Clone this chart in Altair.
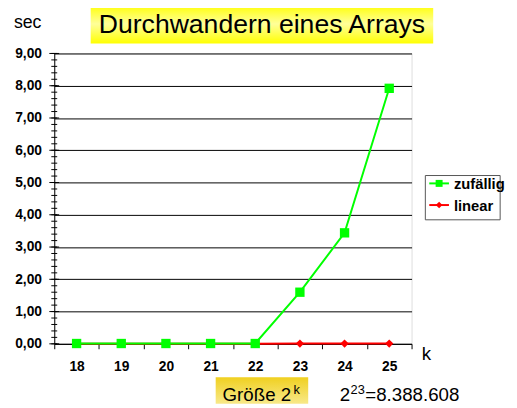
import altair as alt
import pandas as pd

k_values = [18, 19, 20, 21, 22, 23, 24, 25]
zufaellig = [0.01, 0.01, 0.01, 0.01, 0.01, 1.60, 3.44, 7.92]
linear = [0.0, 0.0, 0.0, 0.0, 0.0, 0.01, 0.01, 0.01]
series_names = ["zufällig", "linear"]
y_ticks = [0, 1, 2, 3, 4, 5, 6, 7, 8, 9]
minor_ticks = [i / 5 for i in range(46)]

W, H = 363, 295
FONT = "Liberation Sans"

df_z = pd.DataFrame({"k": [str(v) for v in k_values], "sec": zufaellig, "Reihe": series_names[0]})
df_l = pd.DataFrame({"k": [str(v) for v in k_values], "sec": linear, "Reihe": series_names[1]})

x_enc = alt.X("k:N", sort=[str(v) for v in k_values], title=None,
              scale=alt.Scale(paddingInner=0, paddingOuter=0),
              axis=alt.Axis(labelFont=FONT, labelFontWeight="bold", labelFontSize=14,
                            labelColor="black", labelAngle=0, domainColor="black",
                            tickColor="black", tickSize=5, bandPosition=0, tickBand="extent",
                            labelPadding=11, grid=False))
y_scale = alt.Scale(domain=[0, 9], nice=False)
y_axis = alt.Axis(values=y_ticks, labelExpr="replace(format(datum.value, '.2f'), '.', ',')",
                  labelFont=FONT, labelFontWeight="bold", labelFontSize=14,
                  labelColor="black", domainColor="black", tickSize=0,
                  labelOverlap=False, labelPadding=13, grid=True,
                  gridColor="black", gridOpacity=1, gridWidth=1)
y_enc = alt.Y("sec:Q", scale=y_scale, title=None, axis=y_axis)

base_red = alt.Chart(df_l)
red_line = base_red.mark_line(color="#ff0000", strokeWidth=2).encode(x=x_enc, y=y_enc)
red_pts = base_red.mark_point(shape="diamond", filled=True, color="#ff0000", size=70, opacity=1).encode(x=x_enc, y=y_enc)

base_green = alt.Chart(df_z)
green_line = base_green.mark_line(color="#00ff00", strokeWidth=2).encode(x=x_enc, y=y_enc)
green_pts = base_green.mark_point(shape="square", filled=True, color="#00ff00", size=90, opacity=1).encode(x=x_enc, y=y_enc)

# axis tick marks crossing the y axis
minor_df = pd.DataFrame({"sec": minor_ticks})
minor = alt.Chart(minor_df).mark_rule(color="black", strokeWidth=1).encode(
    y=y_enc, x=alt.value(-3), x2=alt.value(3))
major_df = pd.DataFrame({"sec": y_ticks})
major = alt.Chart(major_df).mark_rule(color="black", strokeWidth=1).encode(
    y=y_enc, x=alt.value(-5), x2=alt.value(5))

one = pd.DataFrame({"a": [0]})

def txt(text, x, y, size, weight="normal", align="center", baseline="middle", color="black"):
    return alt.Chart(one).mark_text(text=text, font=FONT, fontSize=size, fontWeight=weight,
                                    align=align, baseline=baseline, color=color).encode(
        x=alt.value(x), y=alt.value(y))

def box(x1, x2, y1, y2, fill, stroke=None):
    kw = {}
    if stroke:
        kw = {"stroke": stroke, "strokeWidth": 1}
    return alt.Chart(one).mark_rect(fill=fill, **kw).encode(
        x=alt.value(x1), x2=alt.value(x2), y=alt.value(y1), y2=alt.value(y2))

title_grad = alt.LinearGradient(gradient="linear", x1=0, y1=0, x2=0, y2=1, stops=[
    alt.GradientStop(color="#ffff00", offset=0), alt.GradientStop(color="#ffff9a", offset=0.5),
    alt.GradientStop(color="#ffff00", offset=1)])
size_grad = alt.LinearGradient(gradient="linear", x1=0, y1=0, x2=0, y2=1, stops=[
    alt.GradientStop(color="#f0d020", offset=0), alt.GradientStop(color="#f8e98a", offset=1)])

title_box = box(37, 385, -50, -10, title_grad)
title_txt = txt("Durchwandern eines Arrays", 211, -21, 27, baseline="alphabetic")
sec_txt = txt("sec", -27, -31, 18)
k_txt = txt("k", 378, 311, 19, baseline="alphabetic")

size_box = box(164, 258, 329, 356, size_grad)
size_txt = txt("Größe 2", 171, 353, 19, align="left", baseline="alphabetic")
size_sup = txt("k", 243, 346, 13, align="left", baseline="alphabetic")
n_2 = txt("2", 290, 353, 19, align="left", baseline="alphabetic")
n_sup = txt("23", 301, 346, 13, align="left", baseline="alphabetic")
n_rest = txt("=8.388.608", 316, 353, 19, align="left", baseline="alphabetic")

# legend
leg_box = box(377, 453, 124, 169, "white", stroke="#555555")
leg_g_line = alt.Chart(one).mark_rule(color="#00ff00", strokeWidth=2).encode(
    x=alt.value(381), x2=alt.value(401), y=alt.value(132))
leg_g_pt = alt.Chart(one).mark_point(shape="square", filled=True, color="#00ff00", size=50, opacity=1).encode(
    x=alt.value(391), y=alt.value(132))
leg_g_txt = txt(series_names[0], 406, 133, 15, weight="bold", align="left")
leg_r_line = alt.Chart(one).mark_rule(color="#ff0000", strokeWidth=2).encode(
    x=alt.value(381), x2=alt.value(401), y=alt.value(154))
leg_r_pt = alt.Chart(one).mark_point(shape="diamond", filled=True, color="#ff0000", size=45, opacity=1).encode(
    x=alt.value(391), y=alt.value(154))
leg_r_txt = txt(series_names[1], 406, 155, 15, weight="bold", align="left")

chart = alt.layer(
    major, minor, red_line, red_pts, green_line, green_pts,
    title_box, title_txt, sec_txt, k_txt,
    size_box, size_txt, size_sup, n_2, n_sup, n_rest,
    leg_box, leg_g_line, leg_g_pt, leg_g_txt, leg_r_line, leg_r_pt, leg_r_txt,
).properties(
    width=W, height=H,
    autosize=alt.AutoSizeParams(type="none"),
    padding={"left": 47, "top": 43, "right": 99, "bottom": 62},
).configure_view(stroke=None).configure(background="white")

chart.save("out.html", embed_options={"renderer": "svg", "actions": False})
